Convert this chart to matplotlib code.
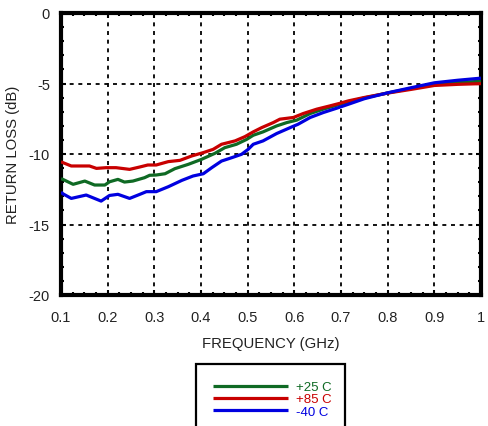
import matplotlib
matplotlib.use("Agg")
import matplotlib.pyplot as plt
from matplotlib.patches import Rectangle
from matplotlib.ticker import MultipleLocator

plt.rcParams['font.family'] = ['Liberation Sans', 'DejaVu Sans']

# ---- data ----
freq_85 = [0.100, 0.104, 0.122, 0.161, 0.176, 0.197, 0.218, 0.247, 0.269, 0.286, 0.304,
           0.330, 0.355, 0.380, 0.405, 0.426, 0.444, 0.473, 0.494, 0.512, 0.530, 0.555,
           0.569, 0.598, 0.619, 0.648, 0.676, 0.698, 0.716, 0.750, 0.800, 0.850, 0.900,
           0.950, 1.000]
rl_85 = [-10.55, -10.61, -10.85, -10.85, -11.02, -10.97, -10.97, -11.09, -10.92, -10.78, -10.78,
         -10.54, -10.45, -10.14, -9.90, -9.67, -9.31, -9.07, -8.77, -8.43, -8.13, -7.77,
         -7.53, -7.41, -7.13, -6.82, -6.59, -6.40, -6.23, -5.99, -5.68, -5.42, -5.14,
         -5.06, -5.01]

freq_25 = [0.100, 0.104, 0.126, 0.151, 0.172, 0.194, 0.204, 0.222, 0.236, 0.254, 0.279,
           0.290, 0.304, 0.323, 0.344, 0.373, 0.401, 0.430, 0.451, 0.476, 0.498, 0.512,
           0.533, 0.562, 0.584, 0.605, 0.634, 0.662, 0.691, 0.716, 0.750, 0.800, 0.850,
           0.900, 0.950, 1.000]
rl_25 = [-11.75, -11.80, -12.15, -11.92, -12.20, -12.20, -11.97, -11.80, -11.99, -11.92, -11.68,
         -11.51, -11.49, -11.40, -11.04, -10.73, -10.38, -9.95, -9.55, -9.31, -8.96, -8.67,
         -8.43, -8.01, -7.77, -7.60, -7.13, -6.82, -6.54, -6.30, -6.02, -5.67, -5.35,
         -5.04, -4.93, -4.84]

freq_m40 = [0.100, 0.104, 0.122, 0.154, 0.186, 0.204, 0.222, 0.247, 0.269, 0.283, 0.304,
            0.330, 0.359, 0.383, 0.405, 0.423, 0.444, 0.466, 0.487, 0.501, 0.512, 0.533,
            0.562, 0.591, 0.608, 0.634, 0.662, 0.691, 0.716, 0.750, 0.800, 0.850, 0.900,
            0.950, 1.000]
rl_m40 = [-12.70, -12.82, -13.15, -12.91, -13.34, -12.94, -12.86, -13.15, -12.86, -12.67, -12.67,
          -12.32, -11.87, -11.56, -11.40, -10.97, -10.50, -10.26, -10.02, -9.67, -9.31, -9.07,
          -8.55, -8.13, -7.89, -7.41, -7.06, -6.75, -6.47, -6.08, -5.66, -5.30, -4.95,
          -4.77, -4.62]

series_labels = ['+25 C', '+85 C', '-40 C']
series_colors = ['#0f6a24', '#c80000', '#0000e0']

x_ticks = [0.1, 0.2, 0.3, 0.4, 0.5, 0.6, 0.7, 0.8, 0.9, 1.0]
x_ticklabels = ['0.1', '0.2', '0.3', '0.4', '0.5', '0.6', '0.7', '0.8', '0.9', '1']
y_ticks = [0, -5, -10, -15, -20]
y_ticklabels = ['0', '-5', '-10', '-15', '-20']

W, H = 489, 427
fig = plt.figure(figsize=(W / 100, H / 100), dpi=100)
ax = fig.add_axes([61 / W, 1 - 296 / H, (481 - 61) / W, (296 - 14) / H])

data = [(freq_25, rl_25), (freq_85, rl_85), (freq_m40, rl_m40)]
handles = []
for (fx, fy), lab, col in zip(data, series_labels, series_colors):
    h, = ax.plot(fx, fy, color=col, lw=2.3, label=lab, solid_capstyle='butt', zorder=3)
    handles.append(h)

ax.set_xlim(0.1, 1.0)
ax.set_ylim(-20, 0)
ax.set_xticks(x_ticks)
ax.set_xticklabels(x_ticklabels)
ax.set_yticks(y_ticks)
ax.set_yticklabels(y_ticklabels)
ax.xaxis.set_minor_locator(MultipleLocator(0.025))
ax.yaxis.set_minor_locator(MultipleLocator(1))
ax.tick_params(which='both', direction='in', top=True, right=True, width=1.5,
               colors='black', labelcolor='#222222', labelsize=10.5)
ax.tick_params(which='major', length=3.5)
ax.tick_params(which='minor', length=2.5)
ax.tick_params(axis='x', which='major', pad=10.5)
ax.tick_params(axis='y', which='major', pad=8)

ax.grid(True, which='major', color='black', linestyle=(0, (2.2, 2.6)), linewidth=1.3)
for s in ax.spines.values():
    s.set_linewidth(3)
    s.set_color('black')

ax.set_xlabel('FREQUENCY (GHz)', fontsize=10.7, color='#222222', labelpad=9)
ax.set_ylabel('RETURN LOSS (dB)', fontsize=10.7, color='#222222', labelpad=6)

# legend box (extends beyond figure bottom)
fig.patches.append(Rectangle((196 / W, 1 - 450 / H), (345 - 196) / W, (450 - 365) / H,
                             transform=fig.transFigure, fill=False, edgecolor='black',
                             linewidth=1.6, clip_on=False))
leg = fig.legend(handles=handles, labels=series_labels, loc='upper left',
                 bbox_to_anchor=(213 / W, 1 - 382 / H), frameon=False, fontsize=9.5,
                 handlelength=5.7, handletextpad=0.6, labelspacing=0.0,
                 labelcolor='linecolor', borderaxespad=0, borderpad=0)

fig.savefig('out.png', dpi=100)
